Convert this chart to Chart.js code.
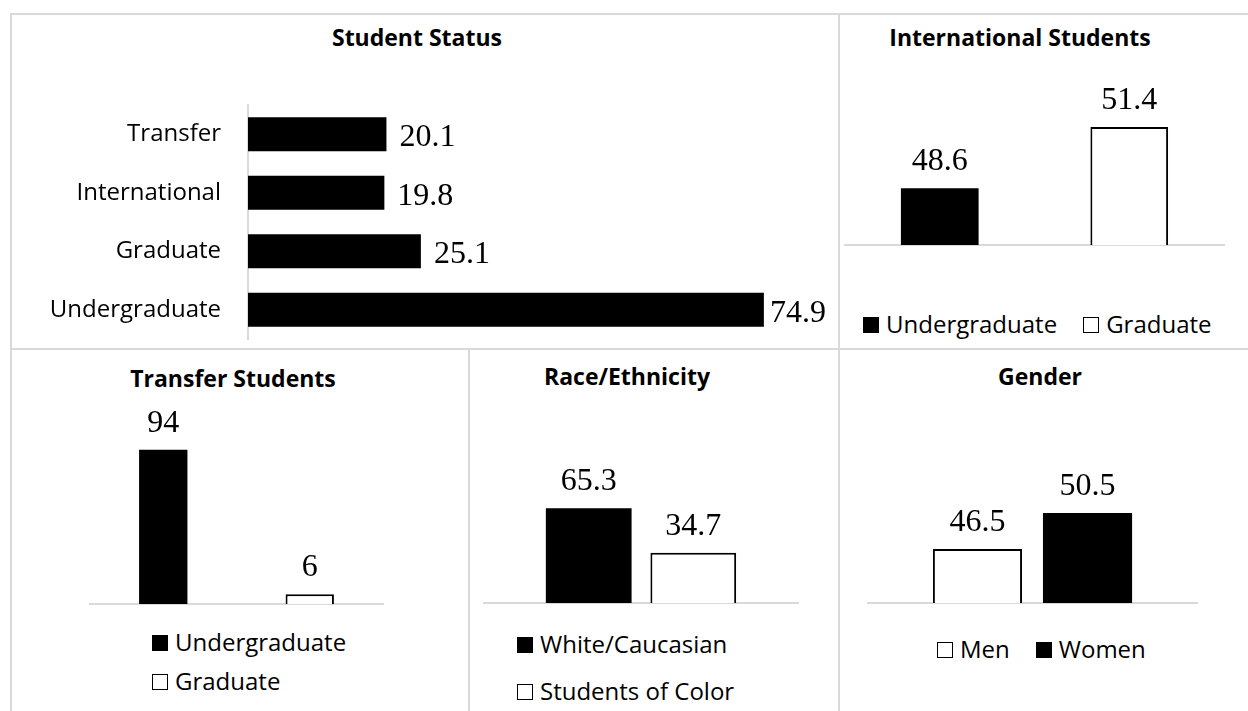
<!DOCTYPE html>
<html>
<head>
<meta charset="utf-8">
<script src="https://cdn.jsdelivr.net/npm/chart.js@4.4.1/dist/chart.umd.min.js"></script>
<style>
  body { margin: 0; background: #fff; width: 1248px; height: 711px; overflow: hidden; position: relative; font-family: "Open Sans", sans-serif; color: #000; }
  .panel { position: absolute; box-sizing: border-box; border: 2px solid #d9d9d9; }
  .title { position: absolute; font-weight: bold; font-size: 23px; line-height: 23px; white-space: nowrap; transform: translateX(-50%); }
  .legend { position: absolute; font-size: 24px; line-height: 24px; white-space: nowrap; }
  .legend .sw { display: inline-block; width: 16px; height: 16px; box-sizing: border-box; margin-right: 7px; }
  .legend .item + .item { margin-left: 26px; }
  .legend.stack .item { display: block; margin: 0; }
  canvas { position: absolute; }
</style>
</head>
<body>

<div class="panel" style="left:10px; top:13px; width:830px; height:337px;"></div>
<div class="panel" style="left:838px; top:13px; width:430px; height:337px;"></div>
<div class="panel" style="left:10px; top:348px; width:460px; height:400px;"></div>
<div class="panel" style="left:468px; top:348px; width:372px; height:400px;"></div>
<div class="panel" style="left:838px; top:348px; width:430px; height:400px;"></div>

<div class="title" style="left:417px; top:26px;">Student Status</div>
<div class="title" style="left:1020px; top:26px;">International Students</div>
<div class="title" style="left:233px; top:367px;">Transfer Students</div>
<div class="title" style="left:627px; top:365px;">Race/Ethnicity</div>
<div class="title" style="left:1040px; top:365px;">Gender</div>

<canvas id="status" width="824" height="286" style="left:12px; top:60px;"></canvas>
<canvas id="intl" width="400" height="200" style="left:840px; top:60px;"></canvas>
<canvas id="transfer" width="450" height="220" style="left:14px; top:400px;"></canvas>
<canvas id="race" width="362" height="200" style="left:472px; top:420px;"></canvas>
<canvas id="gender" width="400" height="200" style="left:842px; top:420px;"></canvas>

<script>
// Student Status (percent)
const statusLabels = ["Transfer", "International", "Graduate", "Undergraduate"];
const statusValues = [20.1, 19.8, 25.1, 74.9];

// International Students
const intlSeries = ["Undergraduate", "Graduate"];
const intlValues = [48.6, 51.4];

// Transfer Students
const transferSeries = ["Undergraduate", "Graduate"];
const transferValues = [94, 6];

// Race/Ethnicity
const raceSeries = ["White/Caucasian", "Students of Color"];
const raceValues = [65.3, 34.7];

// Gender
const genderSeries = ["Men", "Women"];
const genderValues = [46.5, 50.5];

const SOLID = "#000";
const HOLLOW = "#fff";

// prints each value next to (or above) its bar
const valueLabels = {
  id: "valueLabels",
  afterDatasetsDraw(chart) {
    const ctx = chart.ctx;
    const horizontal = chart.options.indexAxis === "y";
    ctx.save();
    ctx.font = "32px 'Liberation Serif', 'Times New Roman', serif";
    ctx.fillStyle = "#000";
    chart.data.datasets.forEach((ds, i) => {
      chart.getDatasetMeta(i).data.forEach((bar, j) => {
        const text = String(ds.data[j]);
        if (horizontal) {
          const w = ctx.measureText(text).width;
          ctx.textAlign = "left";
          ctx.fillText(text, Math.min(bar.x + 13, chart.chartArea.right + 27 - w), bar.y + 12);
        } else {
          ctx.textAlign = "center";
          ctx.fillText(text, bar.x, bar.y - 18);
        }
      });
    });
    ctx.restore();
  }
};

new Chart(document.getElementById("status"), {
  type: "bar",
  data: {
    labels: statusLabels,
    datasets: [{ data: statusValues, backgroundColor: SOLID, categoryPercentage: 1, barPercentage: 0.58 }]
  },
  options: {
    indexAxis: "y",
    responsive: false,
    animation: false,
    layout: { padding: { top: 45, bottom: 7, left: 0, right: 37 } },
    plugins: { legend: { display: false }, tooltip: { enabled: false } },
    scales: {
      x: { display: false, min: 0, max: 80 },
      y: {
        grid: { display: false, drawTicks: false },
        border: { color: "#d9d9d9", width: 2 },
        ticks: { color: "#000", padding: 27, font: { family: "Open Sans", size: 24 } },
        afterFit(s) {
          s.width = 236;
          // label padding should not shrink the plot vertically
          s.paddingTop = 0;
          s.paddingBottom = 0;
        }
      }
    }
  },
  plugins: [valueLabels]
});

function columnChart(id, names, values, fills, o) {
  const datasets = names.map((name, i) => ({
    label: name,
    data: [values[i]],
    backgroundColor: fills[i],
    borderColor: "#000",
    borderWidth: fills[i] === HOLLOW ? 2 : 0,
    categoryPercentage: o.cat,
    barPercentage: o.bar
  }));
  const chart = new Chart(document.getElementById(id), {
    type: "bar",
    data: { labels: [""], datasets },
    options: {
      responsive: false,
      animation: false,
      layout: { padding: o.pad },
      plugins: { legend: { display: false }, tooltip: { enabled: false } },
      scales: {
        x: {
          grid: { display: false, drawTicks: false },
          ticks: { display: false },
          border: { color: "#d9d9d9", width: 2 },
          afterFit(s) { s.height = 0; }
        },
        y: { display: false, min: o.min, max: o.max }
      }
    },
    plugins: [valueLabels]
  });

  // legend built from the chart's own datasets
  const box = document.createElement("div");
  box.className = "legend" + (o.stack ? " stack" : "");
  box.style.left = o.legend[0] + "px";
  box.style.top = o.legend[1] + "px";
  chart.data.datasets.forEach(ds => {
    const item = document.createElement("span");
    item.className = "item";
    if (o.stack) item.style.marginBottom = o.rowGap + "px";
    const sw = document.createElement("span");
    sw.className = "sw";
    sw.style.background = ds.backgroundColor;
    sw.style.border = ds.backgroundColor === HOLLOW ? "1.5px solid #000" : "none";
    item.appendChild(sw);
    item.appendChild(document.createTextNode(ds.label));
    box.appendChild(item);
  });
  document.body.appendChild(box);
}

columnChart("intl", intlSeries, intlValues, [SOLID, HOLLOW], {
  pad: { left: 5, right: 16, top: 54, bottom: 15 },
  min: 46, max: 52, cat: 1, bar: 0.41,
  legend: [863, 312]
});

columnChart("transfer", transferSeries, transferValues, [SOLID, HOLLOW], {
  pad: { left: 76, right: 81, top: 40, bottom: 16 },
  min: 0, max: 100, cat: 1, bar: 0.33,
  legend: [152, 630], stack: true, rowGap: 15
});

columnChart("race", raceSeries, raceValues, [SOLID, HOLLOW], {
  pad: { left: 12, right: 36, top: 67, bottom: 17 },
  min: 0, max: 80, cat: 0.666, bar: 0.82,
  legend: [517, 632], stack: true, rowGap: 23
});

columnChart("gender", genderSeries, genderValues, [HOLLOW, SOLID], {
  pad: { left: 26, right: 45, top: 75, bottom: 17 },
  min: 40.5, max: 52.5, cat: 0.669, bar: 0.81,
  legend: [937, 637]
});
</script>
</body>
</html>
